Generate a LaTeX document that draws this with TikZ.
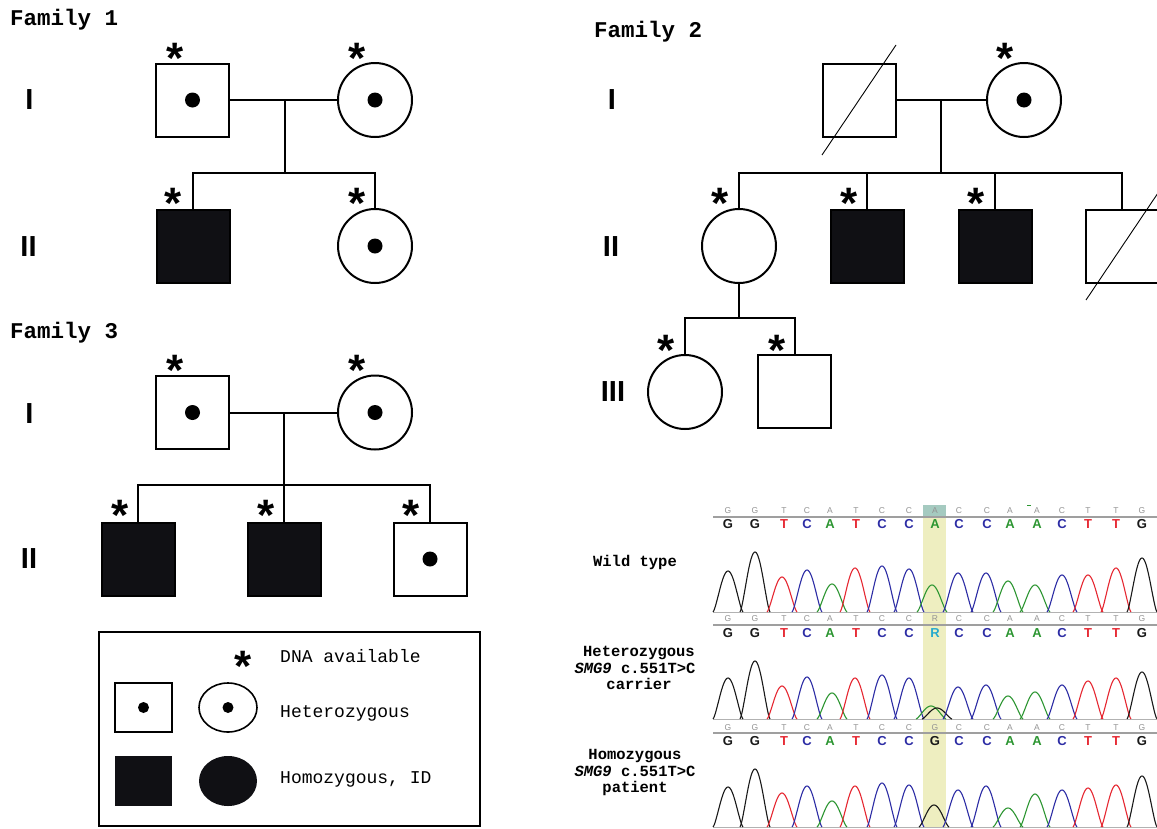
\documentclass[tikz,border=0pt]{standalone}
\usepackage{fontspec}
\usetikzlibrary{calc,shapes.geometric}
\newfontfamily\pedmono{Liberation Mono}
\newfontfamily\pedmonob{Liberation Mono Bold}
\newfontfamily\pedmonobi{Liberation Mono Bold Italic}
\newfontfamily\pedsans{Liberation Sans}
\newfontfamily\pedsansb{Liberation Sans Bold}
\definecolor{affil}{RGB}{16,16,20}
\definecolor{trG}{RGB}{25,25,25}
\definecolor{trT}{RGB}{230,40,50}
\definecolor{trC}{RGB}{45,45,165}
\definecolor{trA}{RGB}{45,150,50}
\definecolor{trR}{RGB}{40,170,205}
\definecolor{band}{RGB}{238,238,192}
\definecolor{callcell}{RGB}{165,202,192}
\begin{document}
\begin{tikzpicture}[x=1pt,y=-1pt,
  person/.style={draw=black,line width=2pt,inner sep=0pt,outer sep=0pt},
  male/.style={person,rectangle,minimum size=73pt},
  female/.style={person,circle,minimum size=74pt},
  affected/.style={fill=affil},
  carrierdot/.style={circle,fill=black,draw=none,inner sep=0pt,minimum size=15pt},
  dnastar/.style={font=\pedsansb\fontsize{44}{44}\selectfont,inner sep=0pt,anchor=base},
  gen/.style={font=\pedsansb\fontsize{29}{29}\selectfont,inner sep=0pt,anchor=base},
  famtitle/.style={font=\pedmonob\fontsize{22.5}{22.5}\selectfont,inner sep=0pt,anchor=base west},
  legtext/.style={font=\pedmono\fontsize{18}{18}\selectfont,inner sep=0pt,anchor=base west},
  seqlabel/.style={font=\pedmonob\fontsize{15.5}{15.5}\selectfont,inner sep=0pt,anchor=base},
  link/.style={line width=2pt},
  slash/.style={line width=0.9pt},
  smallbase/.style={font=\pedsans\fontsize{8.5}{8.5}\selectfont,text=gray!85,inner sep=0pt,anchor=base},
  bigbase/.style={font=\pedsansb\fontsize{13}{13}\selectfont,inner sep=0pt,anchor=base},
  trace/.style={line width=1.1pt,line join=round}
]
\useasboundingbox (0,0) rectangle (1157,828);
\clip (0,0) rectangle (1157,828);
\fill[white] (0,0) rectangle (1157,828);

% ---------------- Family 1 ----------------
\node[famtitle] (t1) at (10,25) {Family 1};
\node[gen] (g1a) at (29.5,109) {I};
\node[gen] (g1b) at (28.5,256) {II};
\node[male] (f1m) at (192.5,100) {};
\node[carrierdot] (f1md) at (f1m) {};
\node[female] (f1f) at (375,100) {};
\node[carrierdot] (f1fd) at (f1f) {};
\node[male,affected] (f1a) at (193,246) {};
\node[female] (f1b) at (375,246) {};
\node[carrierdot] (f1bd) at (f1b) {};
\coordinate (f1c) at (285,100);
\coordinate (f1s) at (285,173);
\draw[link] (f1m) -- (f1f);
\draw[link] (f1c) -- (f1s);
\draw[link] (f1a.north) |- (f1s) -| (f1b.north);
\node[dnastar] (s11) at (175,73.5) {*};
\node[dnastar] (s12) at (357,73.5) {*};
\node[dnastar] (s13) at (173,218.5) {*};
\node[dnastar] (s14) at (357,218.5) {*};

% ---------------- Family 3 ----------------
\node[famtitle] (t3) at (10,338) {Family 3};
\node[gen] (g3a) at (29.5,423) {I};
\node[gen] (g3b) at (29,568) {II};
\node[male] (f3m) at (192.5,412.5) {};
\node[carrierdot] (f3md) at (f3m) {};
\node[female] (f3f) at (375,412.5) {};
\node[carrierdot] (f3fd) at (f3f) {};
\node[male,affected] (f3a) at (138,559) {};
\node[male,affected] (f3b) at (284,559) {};
\node[male] (f3e) at (430,559) {};
\node[carrierdot] (f3ed) at (f3e) {};
\coordinate (f3c) at (284,412.5);
\coordinate (f3s) at (284,485);
\draw[link] (f3m) -- (f3f);
\draw[link] (f3c) -- (f3b.north);
\draw[link] (f3a.north) |- (f3s) -| (f3e.north);
\node[dnastar] (s31) at (175,385.5) {*};
\node[dnastar] (s32) at (357,385.5) {*};
\node[dnastar] (s33) at (120,530.5) {*};
\node[dnastar] (s34) at (266,530.5) {*};
\node[dnastar] (s35) at (411,530.5) {*};

% ---------------- Legend ----------------
\node[draw,line width=1.5pt,minimum width=381pt,minimum height=194pt,inner sep=0pt] (leg) at (289.5,729) {};
\node[dnastar] (ls) at (243,681.5) {*};
\node[legtext] (lt1) at (280,662) {DNA available};
\node[draw,line width=1.6pt,minimum width=57pt,minimum height=49pt,inner sep=0pt] (lgm) at (143.5,707.5) {};
\node[carrierdot,minimum size=11pt] (lgmd) at (lgm) {};
\node[draw,ellipse,line width=1.6pt,minimum width=58pt,minimum height=49pt,inner sep=0pt] (lgf) at (228,707.5) {};
\node[carrierdot,minimum size=11pt] (lgfd) at (lgf) {};
\node[legtext] (lt2) at (280,717) {Heterozygous};
\node[fill=affil,minimum width=57pt,minimum height=50pt,inner sep=0pt] (lam) at (143.5,781) {};
\node[fill=affil,ellipse,minimum width=58pt,minimum height=50pt,inner sep=0pt] (laf) at (228,781) {};
\node[legtext] (lt3) at (280,783) {Homozygous, ID};

% ---------------- Family 2 ----------------
\node[famtitle] (t2) at (594,37) {Family 2};
\node[gen] (g2a) at (612,109) {I};
\node[gen] (g2b) at (611,256) {II};
\node[gen] (g2c) at (613,401) {III};
\node[male] (f2m) at (859,100) {};
\node[female] (f2f) at (1024,100) {};
\node[carrierdot] (f2fd) at (f2f) {};
\node[female] (f2a) at (739,246) {};
\node[male,affected] (f2b) at (867,246) {};
\node[male,affected] (f2c) at (995,246) {};
\node[male] (f2d) at (1122,246) {};
\node[female] (f2g) at (685,392) {};
\node[male] (f2h) at (794.5,391.5) {};
\coordinate (f2c0) at (941,100);
\coordinate (f2s) at (941,173);
\coordinate (f2t) at (739,318);
\draw[link] (f2m) -- (f2f);
\draw[link] (f2c0) -- (f2s);
\draw[link] (f2a.north) |- (f2s) -| (f2d.north);
\draw[link] (f2b.north) -- (f2b.north |- f2s);
\draw[link] (f2c.north) -- (f2c.north |- f2s);
\draw[link] (f2a.south) -- (f2t);
\draw[link] (f2g.north) |- (f2t) -| (f2h.north);
\draw[slash] ($(f2m.center)+(-37,55)$) -- ($(f2m.center)+(37,-55)$);
\draw[slash] ($(f2d.center)+(-36,54)$) -- ($(f2d.center)+(38,-56)$);
\node[dnastar] (s21) at (1005,73.5) {*};
\node[dnastar] (s22) at (720,218.5) {*};
\node[dnastar] (s23) at (849,218.5) {*};
\node[dnastar] (s24) at (976,218.5) {*};
\node[dnastar] (s25) at (666,365.5) {*};
\node[dnastar] (s26) at (777,365.5) {*};

% ---------------- Sequence traces ----------------
\fill[band] (923,505) rectangle (946,828);
\fill[callcell] (923,505) rectangle (946,517);

\node[seqlabel] (w1) at (635,566) {Wild type};
\node[seqlabel] (h1) at (639,656) {Heterozygous};
\node[seqlabel] (h2) at (635,673) {{\pedmonobi SMG9} c.551T>C};
\node[seqlabel] (h3) at (639,689) {carrier};
\node[seqlabel] (p1) at (635,759) {Homozygous};
\node[seqlabel] (p2) at (635,776) {{\pedmonobi SMG9} c.551T>C};
\node[seqlabel] (p3) at (635,792) {patient};

% base-call rows: rule, small calls above, large coloured calls below
\foreach \ry/\rl in {517/612, 625/719, 733/827}{
  \draw[gray!75,line width=1.6pt] (713,\ry) -- (1157,\ry);
  \draw[gray!60,line width=0.8pt] (713,\rl) -- (1157,\rl);
}
\foreach \c/\b/\col [count=\i] in {728/G/trG,755/G/trG,784/T/trT,807/C/trC,830/A/trA,856/T/trT,882/C/trC,909/C/trC,935/A/trA,959/C/trC,987/C/trC,1010/A/trA,1037/A/trA,1062/C/trC,1088/T/trT,1116/T/trT,1142/G/trG}{
  \node[smallbase] (ra\i) at (\c,513) {\b};
  \node[bigbase,text=\col] (rb\i) at (\c,528) {\b};
}
\foreach \c/\b/\col [count=\i] in {728/G/trG,755/G/trG,784/T/trT,807/C/trC,830/A/trA,856/T/trT,882/C/trC,909/C/trC,935/R/trR,959/C/trC,987/C/trC,1010/A/trA,1037/A/trA,1062/C/trC,1088/T/trT,1116/T/trT,1142/G/trG}{
  \node[smallbase] (rc\i) at (\c,621) {\b};
  \node[bigbase,text=\col] (rd\i) at (\c,637) {\b};
}
\foreach \c/\b/\col [count=\i] in {728/G/trG,755/G/trG,784/T/trT,807/C/trC,830/A/trA,856/T/trT,882/C/trC,909/C/trC,935/G/trG,959/C/trC,987/C/trC,1010/A/trA,1037/A/trA,1062/C/trC,1088/T/trT,1116/T/trT,1142/G/trG}{
  \node[smallbase] (re\i) at (\c,730) {\b};
  \node[bigbase,text=\col] (rf\i) at (\c,745) {\b};
}
\draw[trA,line width=1pt] (1027,505) -- (1031,505);

% peaks: baseline / centre / height / colour (widened cosine bells)
\foreach \bl/\c/\h/\col in {
  612/728/41/trG,612/755/60/trG,612/782/35/trT,612/807/42/trC,612/832/28/trA,612/855/44/trT,612/882/46/trC,612/909/43/trC,612/932/27/trA,612/958/39/trC,612/986/39/trC,612/1008/31/trA,612/1035/27/trA,612/1062/37/trC,612/1088/37/trT,612/1116/44/trT,612/1142/54/trG,
  719/728/41/trG,719/755/58/trG,719/782/33/trT,719/807/42/trC,719/832/26/trA,719/855/41/trT,719/882/44/trC,719/909/41/trC,719/931/13/trA,719/937/11/trG,719/958/32/trC,719/986/34/trC,719/1008/23/trA,719/1035/27/trA,719/1062/34/trC,719/1088/38/trT,719/1116/41/trT,719/1142/47/trG,
  827/728/40/trG,827/755/58/trG,827/782/34/trT,827/807/41/trC,827/832/26/trA,827/855/41/trT,827/882/44/trC,827/909/42/trC,827/934/22/trG,827/958/37/trC,827/986/41/trC,827/1008/19/trA,827/1035/33/trA,827/1062/37/trC,827/1088/39/trT,827/1116/42/trT,827/1142/51/trG}{
  \pgfmathsetmacro\lo{\c-15}
  \pgfmathsetmacro\hi{\c+15}
  \draw[trace,\col] plot[domain=\lo:\hi,samples=41]
    (\x,{\bl-\h*(0.5+0.5*cos(12*(\x-\c))+0.0001)^0.7});
}
\end{tikzpicture}
\end{document}
